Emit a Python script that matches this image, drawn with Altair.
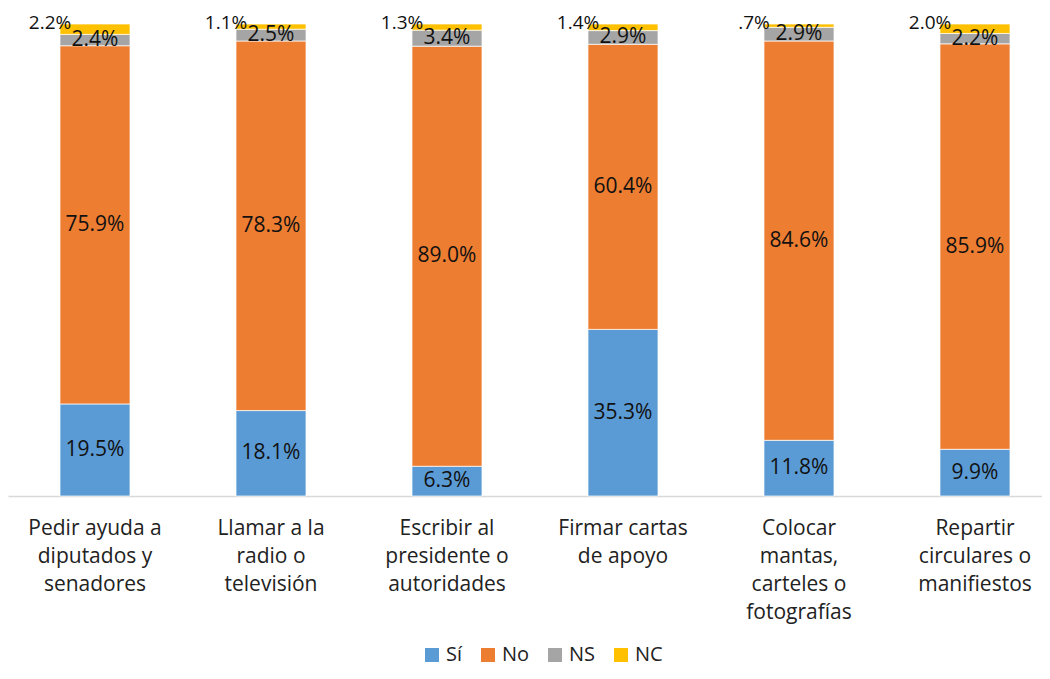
import altair as alt
import pandas as pd

categories = [
    "Pedir ayuda a|diputados y|senadores",
    "Llamar a la|radio o|televisión",
    "Escribir al|presidente o|autoridades",
    "Firmar cartas|de apoyo",
    "Colocar|mantas,|carteles o|fotografías",
    "Repartir|circulares o|manifiestos",
]
series = ["Sí", "No", "NS", "NC"]
si = [19.5, 18.1, 6.3, 35.3, 11.8, 9.9]
no = [75.9, 78.3, 89.0, 60.4, 84.6, 85.9]
ns = [2.4, 2.5, 3.4, 2.9, 2.9, 2.2]
nc = [2.2, 1.1, 1.3, 1.4, 0.7, 2.0]
colors = ["#5B9BD5", "#ED7D31", "#A5A5A5", "#FFC000"]

FONT = "Open Sans"

rows = []
for i, c in enumerate(categories):
    for k, (s, vals) in enumerate(zip(series, [si, no, ns, nc])):
        v = vals[i]
        txt = f"{v:.1f}"
        if v < 1:
            txt = txt.lstrip("0")
        rows.append(dict(cat=c, serie=s, value=v, order=k, label=txt + "%"))
df = pd.DataFrame(rows)

x = alt.X(
    "cat:N",
    sort=categories,
    title=None,
    scale=alt.Scale(range=[0, 1054], paddingInner=0.6023, paddingOuter=0.2955),
    axis=alt.Axis(
        labelExpr="split(datum.label, '|')",
        labelAngle=0,
        labelFontSize=21,
        labelFont=FONT,
        labelColor="#222222",
        labelLineHeight=28,
        labelPadding=21,
        labelLimit=400,
        ticks=False,
        domainColor="#D9D9D9",
        domainWidth=1.5,
        labelBaseline="top",
    ),
)

base = (
    alt.Chart(df)
    .transform_stack(
        stack="value",
        groupby=["cat"],
        sort=[alt.SortField("order", "ascending")],
        as_=["v0", "v1"],
    )
    .transform_calculate(mid="(datum.v0 + datum.v1) / 2")
)

ysc = alt.Scale(domain=[0, 100])

bars = base.mark_bar(stroke="white", strokeWidth=0.7).encode(
    x=x,
    y=alt.Y("v0:Q", scale=ysc, axis=None),
    y2="v1:Q",
    color=alt.Color(
        "serie:N",
        scale=alt.Scale(domain=series, range=colors),
        sort=series,
        legend=alt.Legend(
            title=None,
            orient="none",
            legendX=414,
            legendY=621,
            direction="horizontal",
            symbolType="square",
            symbolSize=196,
            symbolStrokeWidth=0,
            labelFontSize=20,
            labelFont=FONT,
            labelColor="#222222",
            labelOffset=4,
            columnPadding=15,
        ),
    ),
)

inner = base.transform_filter("datum.serie != 'NC'").mark_text(
    fontSize=21, font=FONT, color="#111111"
).encode(x=x, y=alt.Y("mid:Q", scale=ysc), text="label:N")

top = base.transform_filter("datum.serie == 'NC'").mark_text(
    fontSize=19, font=FONT, color="#111111", dx=-45, dy=5, baseline="alphabetic"
).encode(x=x, y=alt.Y("v1:Q", scale=ysc), text="label:N")

chart = (
    alt.layer(bars, inner, top)
    .properties(
        width=1034,
        height=472,
        autosize=alt.AutoSizeParams(type="none"),
        padding={"left": 0, "top": 16, "right": 0, "bottom": 175},
    )
    .configure_view(stroke=None)
)

chart.save("out.html", embed_options={"renderer": "svg", "actions": False})
